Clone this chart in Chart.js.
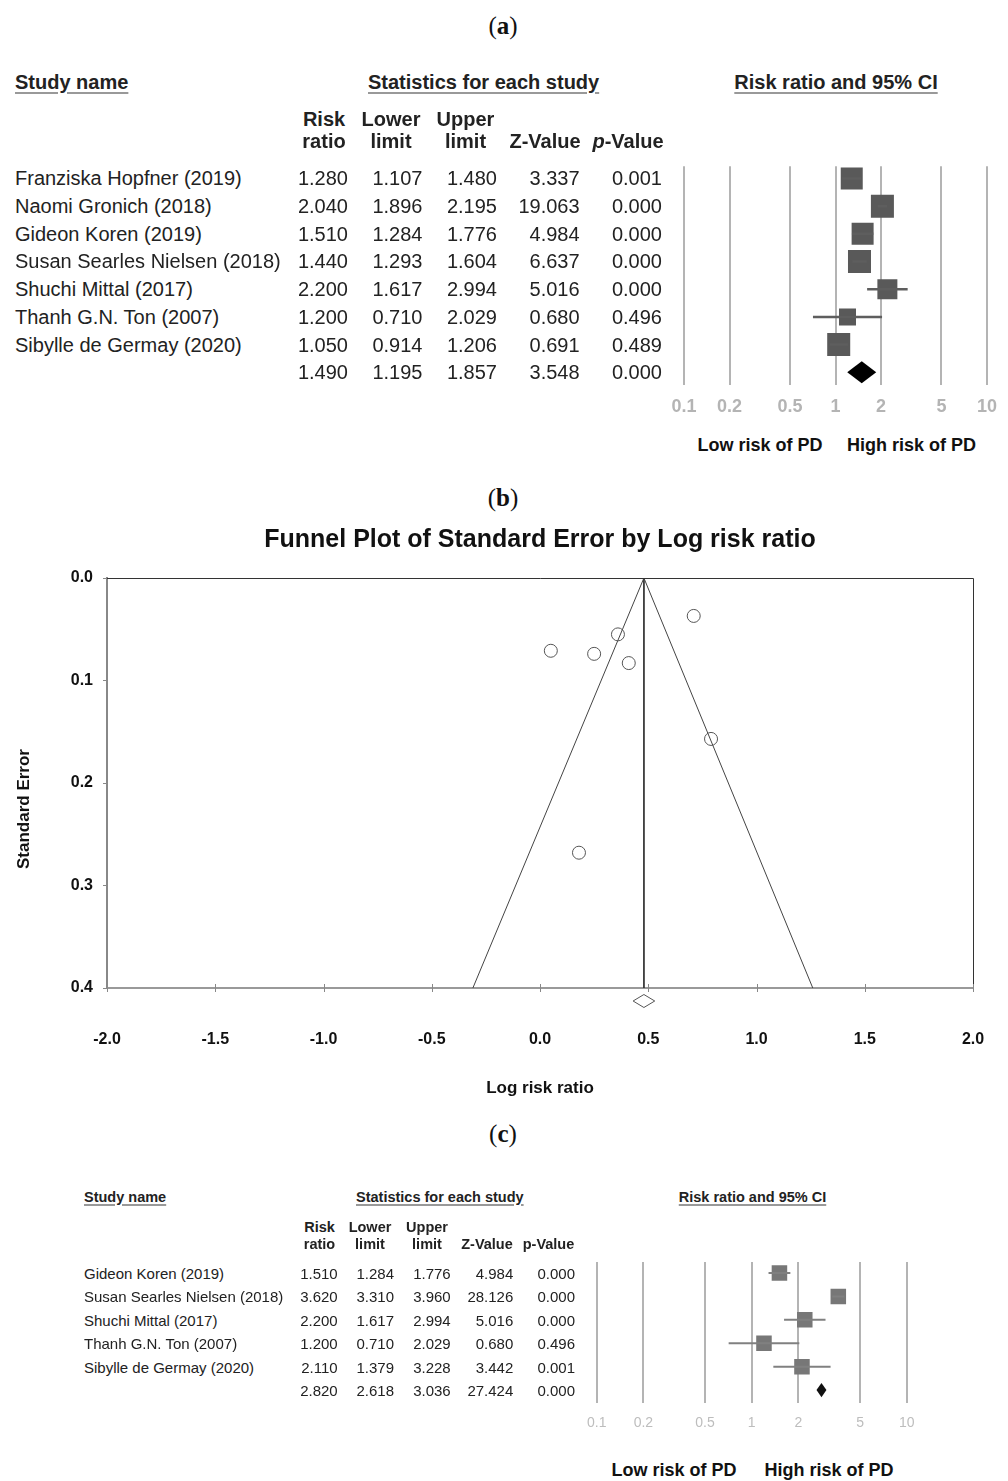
<!DOCTYPE html>
<html lang="en">
<head>
<meta charset="UTF-8">
<title>Forest and funnel plots</title>
<script src="https://cdn.jsdelivr.net/npm/chart.js"></script>
<style>
  body { margin: 0; background: #fff; font-family: "Liberation Sans", Arial, sans-serif; color: #222; }
  #page { position: relative; width: 1008px; height: 1481px; overflow: hidden; background: #fff; }
  .t { position: absolute; white-space: nowrap; }
  .panel { font-family: "Liberation Serif", serif; color: #111; }
  .u { text-decoration: underline; text-decoration-color: #999; text-decoration-thickness: 2px; }
  canvas { position: absolute; }
</style>
</head>
<body>
<div id="page">
  <canvas id="forestA" width="348" height="275" style="left:660px;top:150px"></canvas>
  <canvas id="funnelB" width="1008" height="580" style="left:0;top:520px"></canvas>
  <canvas id="forestC" width="400" height="198" style="left:570px;top:1245px"></canvas>
</div>
<script>
// (a) all seven studies
const studiesA = ['Franziska Hopfner (2019)', 'Naomi Gronich (2018)', 'Gideon Koren (2019)',
  'Susan Searles Nielsen (2018)', 'Shuchi Mittal (2017)', 'Thanh G.N. Ton (2007)', 'Sibylle de Germay (2020)'];
const rrA = [1.280, 2.040, 1.510, 1.440, 2.200, 1.200, 1.050];
const lowerA = [1.107, 1.896, 1.284, 1.293, 1.617, 0.710, 0.914];
const upperA = [1.480, 2.195, 1.776, 1.604, 2.994, 2.029, 1.206];
const zA = [3.337, 19.063, 4.984, 6.637, 5.016, 0.680, 0.691];
const pA = [0.001, 0.000, 0.000, 0.000, 0.000, 0.496, 0.489];
const weightA = [14.9, 16.3, 14.9, 16.3, 12.3, 8.9, 16.3];   // relative weights (%)
const pooledA = [1.490, 1.195, 1.857, 3.548, 0.000];          // rr, lower, upper, z, p
const ticksA = [0.1, 0.2, 0.5, 1, 2, 5, 10];

// (b) funnel plot
const logRrB = [0.25, 0.71, 0.41, 0.36, 0.79, 0.18, 0.05];
const seB = [0.074, 0.037, 0.083, 0.055, 0.157, 0.268, 0.071];
const funnelXB = [-0.31, 0.48, 1.26];
const funnelYB = [0.4, 0.0, 0.4];
const pooledB = [0.48, 0.43, 0.53];                           // estimate, lower, upper

// (c) five studies
const studiesC = ['Gideon Koren (2019)', 'Susan Searles Nielsen (2018)', 'Shuchi Mittal (2017)',
  'Thanh G.N. Ton (2007)', 'Sibylle de Germay (2020)'];
const rrC = [1.510, 3.620, 2.200, 1.200, 2.110];
const lowerC = [1.284, 3.310, 1.617, 0.710, 1.379];
const upperC = [1.776, 3.960, 2.994, 2.029, 3.228];
const zC = [4.984, 28.126, 5.016, 0.680, 3.442];
const pC = [0.000, 0.000, 0.000, 0.496, 0.001];
const weightC = [20, 20, 20, 20, 20];
const pooledC = [2.820, 2.618, 3.036, 27.424, 0.000];
const ticksC = [0.1, 0.2, 0.5, 1, 2, 5, 10];

const page = document.getElementById('page');

function put(html, x, y, o = {}) {
  const d = document.createElement('div');
  d.className = 't' + (o.cls ? ' ' + o.cls : '');
  d.innerHTML = html;
  const size = o.size || 20;
  const lh = Math.round(size * 1.4);
  d.style.fontSize = size + 'px';
  d.style.lineHeight = lh + 'px';
  d.style.top = (y - lh / 2) + 'px';
  if (o.bold) d.style.fontWeight = 'bold';
  if (o.color) d.style.color = o.color;
  if (o.off) d.style.textUnderlineOffset = o.off + 'px';
  const w = 500;
  if (o.align === 'right') {
    d.style.left = (x - w) + 'px'; d.style.width = w + 'px'; d.style.textAlign = 'right';
  } else if (o.align === 'center') {
    d.style.left = (x - w / 2) + 'px'; d.style.width = w + 'px'; d.style.textAlign = 'center';
  } else {
    d.style.left = x + 'px';
  }
  page.appendChild(d);
  return d;
}

// table with names + 5 stat columns
function table(t) {
  const hs = t.hSize, bs = t.size;
  put('Study name', t.nameX, t.headY, {bold: true, size: hs, cls: 'u', off: t.uOff});
  put('Statistics for each study', t.statX, t.headY, {bold: true, size: hs, cls: 'u', off: t.uOff});
  put('Risk ratio and 95% CI', t.ciX, t.headY, {bold: true, size: hs, cls: 'u', off: t.uOff, align: 'center'});
  t.cols.forEach(c => {
    if (c.h1) put(c.h1, c.c, t.h1Y, {bold: true, size: hs, align: 'center'});
    put(c.h2, c.c, t.h2Y, {bold: true, size: hs, align: 'center'});
  });
  const rows = t.names.map((nm, i) => [nm, t.rr[i], t.lo[i], t.hi[i], t.z[i], t.p[i]]);
  rows.push([''].concat(t.pooled));
  rows.forEach((r, i) => {
    const y = t.rowY + t.rowH * i;
    if (r[0]) put(r[0], t.nameX, y, {size: bs});
    t.cols.forEach((c, j) => put(r[j + 1].toFixed(3), c.r, y, {size: bs, align: 'right'}));
  });
  put('Low risk of PD', t.lowX, t.riskY, {bold: true, size: 18, align: 'center', color: '#111'});
  put('High risk of PD', t.highX, t.riskY, {bold: true, size: 18, align: 'center', color: '#111'});
}

put('(<b>a</b>)', 503, 25, {cls: 'panel', size: 25, align: 'center'});
put('(<b>b</b>)', 503, 497, {cls: 'panel', size: 25, align: 'center'});
put('(<b>c</b>)', 503, 1133, {cls: 'panel', size: 25, align: 'center'});

table({
  names: studiesA, rr: rrA, lo: lowerA, hi: upperA, z: zA, p: pA, pooled: pooledA,
  size: 20, hSize: 20, uOff: 3,
  nameX: 15, statX: 368, ciX: 836, headY: 81.7, h1Y: 119, h2Y: 141,
  rowY: 178.3, rowH: 27.7,
  cols: [
    {c: 324, r: 348, h1: 'Risk', h2: 'ratio'},
    {c: 391, r: 422.5, h1: 'Lower', h2: 'limit'},
    {c: 465.5, r: 497, h1: 'Upper', h2: 'limit'},
    {c: 545, r: 579.6, h2: 'Z-Value'},
    {c: 628, r: 662, h2: '<i>p</i>-Value'}
  ],
  lowX: 760, highX: 911.5, riskY: 445
});

table({
  names: studiesC, rr: rrC, lo: lowerC, hi: upperC, z: zC, p: pC, pooled: pooledC,
  size: 15, hSize: 14.5, uOff: 2,
  nameX: 84, statX: 356, ciX: 752.5, headY: 1196.7, h1Y: 1226.7, h2Y: 1244,
  rowY: 1273.3, rowH: 23.45,
  cols: [
    {c: 319.5, r: 337.7, h1: 'Risk', h2: 'ratio'},
    {c: 370, r: 394, h1: 'Lower', h2: 'limit'},
    {c: 427, r: 450.7, h1: 'Upper', h2: 'limit'},
    {c: 487, r: 513.3, h2: 'Z-Value'},
    {c: 548.5, r: 575, h2: 'p-Value'}
  ],
  lowX: 674, highX: 829, riskY: 1470
});

// summary diamond, drawn from the chart's scales
const diamondPlugin = {
  id: 'diamond',
  afterDatasetsDraw(chart, args, o) {
    const {ctx, chartArea} = chart;
    const x = chart.scales.x, y = chart.scales.y;
    const yc = o.row != null ? y.getPixelForValue(o.row) : chartArea.bottom + o.below;
    const xl = x.getPixelForValue(o.lo), xm = x.getPixelForValue(o.est), xr = x.getPixelForValue(o.hi);
    ctx.save();
    ctx.beginPath();
    ctx.moveTo(xl, yc);
    ctx.lineTo(xm, yc - o.half);
    ctx.lineTo(xr, yc);
    ctx.lineTo(xm, yc + o.half);
    ctx.closePath();
    if (o.fill) { ctx.fillStyle = o.fill; ctx.fill(); }
    if (o.stroke) { ctx.strokeStyle = o.stroke; ctx.lineWidth = o.lw || 1; ctx.stroke(); }
    ctx.restore();
  }
};

function forest(id, names, rr, lo, hi, wt, pooled, ticks, st) {
  const n = names.length;
  const ciSets = names.map((nm, i) => ({
    showLine: true,
    data: [{x: lo[i], y: i}, {x: hi[i], y: i}],
    borderColor: st.ci, borderWidth: st.ciW, pointRadius: 0
  }));
  const boxSet = {
    data: rr.map((v, i) => ({x: v, y: i})),
    pointStyle: 'rect',
    pointRadius: wt.map(w => st.boxK * Math.sqrt(w) / Math.SQRT2),
    backgroundColor: st.box, borderColor: st.box, borderWidth: 0
  };
  return new Chart(document.getElementById(id), {
    type: 'scatter',
    data: {datasets: [...ciSets, boxSet]},
    options: {
      responsive: false,
      animation: false,
      layout: {padding: st.pad},
      plugins: {
        legend: {display: false},
        tooltip: {enabled: false},
        diamond: {row: n, est: pooled[0], lo: pooled[1], hi: pooled[2], half: st.dHalf, fill: st.dFill}
      },
      scales: {
        x: {
          type: 'logarithmic', min: ticks[0], max: ticks[ticks.length - 1],
          afterBuildTicks: s => { s.ticks = ticks.map(v => ({value: v})); },
          afterFit: s => { s.height = st.axisH; s.paddingLeft = 0; s.paddingRight = 0; },
          grid: {color: st.grid, lineWidth: st.gridW, drawTicks: false},
          border: {display: false},
          ticks: {padding: st.tickPad, color: st.tickColor, font: st.tickFont,
                  maxRotation: 0, autoSkip: false, callback: v => String(v)}
        },
        y: {type: 'linear', display: false, reverse: true, min: -st.rowTop, max: n + st.rowBot}
      }
    },
    plugins: [diamondPlugin]
  });
}

forest('forestA', studiesA, rrA, lowerA, upperA, weightA, pooledA, ticksA, {
  pad: {top: 16, left: 24, right: 21, bottom: 0}, axisH: 40,
  grid: '#b4b4b4', gridW: 2, box: '#595959', ci: '#5e5e5e', ciW: 2.5, boxK: 5.7,
  tickPad: 11, tickColor: '#b4b4b4',
  tickFont: {family: 'Liberation Sans', size: 18, weight: 'bold'},
  rowTop: 0.44, rowBot: 0.46, dHalf: 11, dFill: '#000'
});

forest('forestC', studiesC, rrC, lowerC, upperC, weightC, pooledC, ticksC, {
  pad: {top: 17, left: 26.7, right: 63.3, bottom: 0}, axisH: 40,
  grid: '#b4b4b4', gridW: 2, box: '#777777', ci: '#808080', ciW: 2, boxK: 3.47,
  tickPad: 12, tickColor: '#bdbdbd',
  tickFont: {family: 'Liberation Sans', size: 14},
  rowTop: 0.47, rowBot: 0.55, dHalf: 7.2, dFill: '#111'
});

// (b) funnel plot
const frameB = {
  id: 'frameB',
  afterDraw(chart) {
    const {ctx, chartArea: a} = chart;
    const x = chart.scales.x;
    ctx.save();
    ctx.strokeStyle = '#333';
    ctx.lineWidth = 1;
    ctx.beginPath();
    ctx.moveTo(a.left, a.top + 0.5);
    ctx.lineTo(a.right + 0.5, a.top + 0.5);
    ctx.lineTo(a.right + 0.5, a.bottom);
    ctx.stroke();
    ctx.strokeStyle = '#888';
    ctx.beginPath();
    x.ticks.forEach(t => {
      const px = Math.round(x.getPixelForValue(t.value)) + 0.5;
      ctx.moveTo(px, a.bottom - 4);
      ctx.lineTo(px, a.bottom + 4);
    });
    ctx.stroke();
    ctx.restore();
  }
};

const boldFont = size => ({family: 'Liberation Sans', size: size, weight: 'bold'});

new Chart(document.getElementById('funnelB'), {
  type: 'scatter',
  data: {
    datasets: [
      {
        data: logRrB.map((v, i) => ({x: v, y: seB[i]})),
        pointStyle: 'circle', pointRadius: 6.5,
        borderColor: '#555', borderWidth: 1, backgroundColor: 'rgba(0,0,0,0)'
      },
      {
        showLine: true,
        data: funnelXB.map((v, i) => ({x: v, y: funnelYB[i]})),
        borderColor: '#444', borderWidth: 1, pointRadius: 0
      },
      {
        showLine: true,
        data: [{x: pooledB[0], y: funnelYB[1]}, {x: pooledB[0], y: funnelYB[0]}],
        borderColor: '#333', borderWidth: 1, pointRadius: 0
      }
    ]
  },
  options: {
    responsive: false,
    animation: false,
    layout: {padding: {top: 0, right: 35, bottom: 0, left: 0}},
    plugins: {
      legend: {display: false},
      tooltip: {enabled: false},
      title: {
        display: true, fullSize: false, text: 'Funnel Plot of Standard Error by Log risk ratio',
        color: '#111', font: boldFont(25), padding: {top: 5, bottom: 23}
      },
      diamond: {below: 13, est: pooledB[0], lo: pooledB[1], hi: pooledB[2], half: 6.5, stroke: '#555', lw: 1}
    },
    scales: {
      x: {
        type: 'linear', min: -2, max: 2,
        afterFit: s => { s.height = 112; s.paddingLeft = 0; s.paddingRight = 0; },
        grid: {drawOnChartArea: false, drawTicks: false},
        border: {display: true, color: '#999', width: 2},
        ticks: {stepSize: 0.5, padding: 42.4, color: '#111', font: boldFont(16), callback: v => v.toFixed(1)},
        title: {display: true, text: 'Log risk ratio', color: '#111', font: boldFont(17), padding: {top: 0, bottom: 1.8}}
      },
      y: {
        type: 'linear', min: 0, max: 0.4, reverse: true,
        afterFit: s => { s.width = 107; },
        grid: {drawOnChartArea: false, drawTicks: true, tickLength: 4, color: '#888'},
        border: {display: true, color: '#888', width: 2},
        ticks: {stepSize: 0.1, padding: 10, color: '#111', font: boldFont(16), callback: v => v.toFixed(1)}
      }
    }
  },
  plugins: [diamondPlugin, frameB]
});

// rotated y-axis title for the funnel plot
const yt = put('Standard Error', 24, 809, {bold: true, size: 17, color: '#111', align: 'center'});
yt.style.transformOrigin = '50% 50%';
yt.style.transform = 'rotate(-90deg)';
</script>
</body>
</html>
